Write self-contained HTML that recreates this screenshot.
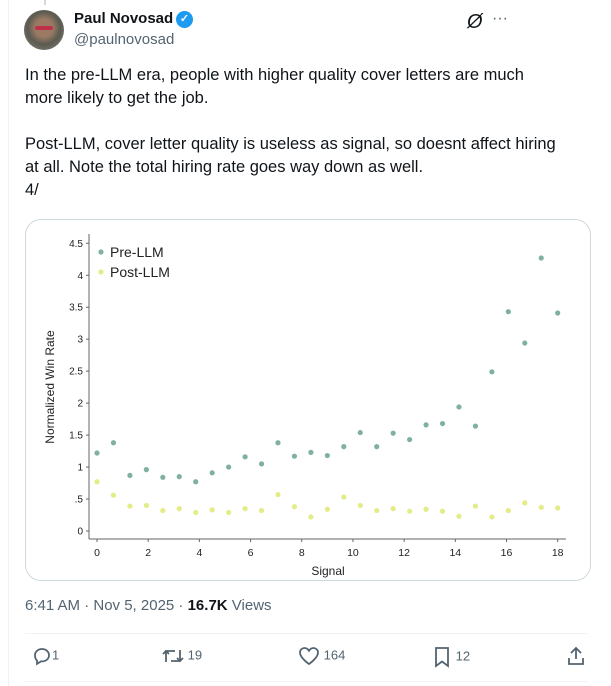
<!DOCTYPE html>
<html><head><meta charset="utf-8">
<style>
body{margin:0;width:611px;height:686px;background:#fff;font-family:"Liberation Sans",sans-serif;color:#0f1419;position:relative;overflow:hidden}
.abs{position:absolute}
.txt{font-size:16.5px;line-height:23px;white-space:nowrap}
.gray{color:#536471}
</style></head><body>
<div class="abs" style="left:8px;top:0;width:1px;height:686px;background:#eff3f4"></div>
<div class="abs" style="left:44px;top:0;width:2px;height:5px;background:#cfd9de"></div>
<div class="abs" style="left:24px;top:10px;width:40px;height:40px;border-radius:50%;background:radial-gradient(circle at 50% 45%,#9a7a64 0 30%,#5a5a50 55%,#8a8a80 100%)"><div style="position:absolute;left:11px;top:16px;width:18px;height:4px;background:#c0304a;border-radius:2px"></div></div>
<div class="abs" style="left:74px;top:10px;font-weight:bold;font-size:15px">Paul Novosad</div>
<div class="abs" style="left:176px;top:11px;width:17px;height:17px;border-radius:50%;background:#1d9bf0;color:#fff;font-size:11px;text-align:center;line-height:17px;font-weight:bold">✓</div>
<div class="abs gray" style="left:74px;top:31px;font-size:15px">@paulnovosad</div>
<div class="abs" style="left:467px;top:11px;font-size:20px;font-style:italic">Ø</div>
<div class="abs" style="left:492px;top:10px;font-size:16px;color:#536471">···</div>
<div class="abs txt" style="left:25px;top:64px">In the pre-LLM era, people with higher quality cover letters are much<br>more likely to get the job.<br><br>Post-LLM, cover letter quality is useless as signal, so doesnt affect hiring<br>at all. Note the total hiring rate goes way down as well.<br>4/</div>
<div class="abs" style="left:25px;top:219px;width:564px;height:360px;border:1px solid #cfd9de;border-radius:16px;overflow:hidden">
<svg id="chart" width="564" height="360" style="position:absolute;left:-25px;top:-219px;overflow:visible" xmlns="http://www.w3.org/2000/svg"></svg>
</div>
<div class="abs gray" style="left:25px;top:597px;font-size:15px">6:41 AM · Nov 5, 2025 · <b style="color:#0f1419">16.7K</b> Views</div>
<div class="abs" style="left:25px;top:633px;width:562px;height:1px;background:#eff3f4"></div>
<div class="abs" style="left:25px;top:681px;width:562px;height:1px;background:#eff3f4"></div>
<div class="abs gray" style="left:32px;top:646px;font-size:13px"><svg width="20" height="20" viewBox="0 0 20 20" style="vertical-align:middle"><path d="M10 3c4 0 7 2.7 7 6.2s-3 6.2-7 6.2h-1l-4 2.5v-3.3C3.7 13.4 3 11.6 3 9.2 3 5.7 6 3 10 3z" fill="none" stroke="#536471" stroke-width="1.8"/></svg>1</div>
<div class="abs gray" style="left:162px;top:646px;font-size:13px"><svg width="22" height="20" viewBox="0 0 22 20" style="vertical-align:middle"><path d="M4 16V5h9M1 8l3-3 3 3M18 4v11H9M21 12l-3 3-3-3" fill="none" stroke="#536471" stroke-width="1.8"/></svg> 19</div>
<div class="abs gray" style="left:298px;top:646px;font-size:13px"><svg width="22" height="20" viewBox="0 0 22 20" style="vertical-align:middle"><path d="M11 18S2 12 2 6.5C2 3.5 4.5 2 6.5 2c2 0 3.5 1.2 4.5 2.8C12 3.2 13.5 2 15.5 2 17.5 2 20 3.5 20 6.5 20 12 11 18 11 18z" fill="none" stroke="#536471" stroke-width="1.8"/></svg> 164</div>
<div class="abs gray" style="left:432px;top:646px;font-size:13px"><svg width="20" height="22" viewBox="0 0 20 22" style="vertical-align:middle"><path d="M4 2h12v18l-6-4.5L4 20z" fill="none" stroke="#536471" stroke-width="1.8"/></svg> 12</div>
<div class="abs" style="left:566px;top:646px"><svg width="20" height="20" viewBox="0 0 20 20"><path d="M10 13V2M5 7l5-5 5 5M3 12v6h14v-6" fill="none" stroke="#536471" stroke-width="1.8"/></svg></div>
<script>
const signal=[0,0.643,1.286,1.929,2.571,3.214,3.857,4.5,5.143,5.786,6.429,7.071,7.714,8.357,9,9.643,10.286,10.929,11.571,12.214,12.857,13.5,14.143,14.786,15.429,16.071,16.714,17.357,18];
const preLLM=[1.22,1.38,0.87,0.96,0.84,0.85,0.77,0.91,1.0,1.16,1.05,1.38,1.17,1.23,1.18,1.32,1.54,1.32,1.53,1.43,1.66,1.68,1.94,1.64,2.49,3.43,2.94,4.27,3.41];
const postLLM=[0.77,0.56,0.39,0.40,0.32,0.35,0.29,0.33,0.29,0.35,0.32,0.57,0.38,0.22,0.34,0.53,0.40,0.32,0.35,0.31,0.34,0.31,0.23,0.39,0.22,0.32,0.44,0.37,0.36];
const xTicks=[0,2,4,6,8,10,12,14,16,18];
const yTicks=[0,0.5,1,1.5,2,2.5,3,3.5,4,4.5];
const yTickLabels=["0",".5","1","1.5","2","2.5","3","3.5","4","4.5"];
const NS="http://www.w3.org/2000/svg";
const svg=document.getElementById('chart');
const X=v=>96+v*(460.7/18);
const Y=v=>530-v*(287.7/4.5);
function mk(t,a){const e=document.createElementNS(NS,t);for(const k in a)e.setAttribute(k,a[k]);svg.appendChild(e);return e;}
let e;
e=mk('line',{x1:88,y1:233,x2:88,y2:538,stroke:'#666','stroke-width':1});


e=mk('line',{x1:88,y1:538,x2:565,y2:538,stroke:'#666','stroke-width':1});


yTicks.forEach((v,i)=>{
 e=mk('line',{x1:85,y1:Y(v),x2:88,y2:Y(v),stroke:'#666'});
 
 
 e=mk('text',{x:82,y:Y(v)+3.5,'text-anchor':'end','font-size':10,fill:'#222'});e.textContent=yTickLabels[i];
 
 
});
xTicks.forEach(v=>{
 e=mk('line',{x1:X(v),y1:538,x2:X(v),y2:541,stroke:'#666'});
 
 
 e=mk('text',{x:X(v),y:555,'text-anchor':'middle','font-size':10.5,fill:'#222'});e.textContent=v;
 
 
});
e=mk('text',{x:327,y:574,'text-anchor':'middle','font-size':12,fill:'#222'});e.textContent='Signal';


e=mk('text',{x:0,y:0,'text-anchor':'middle','font-size':12,fill:'#222',transform:'translate(53,386) rotate(-90)'});e.textContent='Normalized Win Rate';


const preC='#7fb0a3',postC='#e3ec86';
signal.forEach((s,i)=>{
 e=mk('circle',{cx:X(s),cy:Y(preLLM[i]),r:2.6,fill:preC});
 
 
 e=mk('circle',{cx:X(s),cy:Y(postLLM[i]),r:2.6,fill:postC});
 
 
});
e=mk('circle',{cx:100,cy:251,r:2.6,fill:preC});


e=mk('text',{x:109,y:256,'font-size':14,fill:'#222'});e.textContent='Pre-LLM';


e=mk('circle',{cx:100,cy:271,r:2.6,fill:postC});


e=mk('text',{x:109,y:276,'font-size':14,fill:'#222'});e.textContent='Post-LLM';


</script>
</body></html>
